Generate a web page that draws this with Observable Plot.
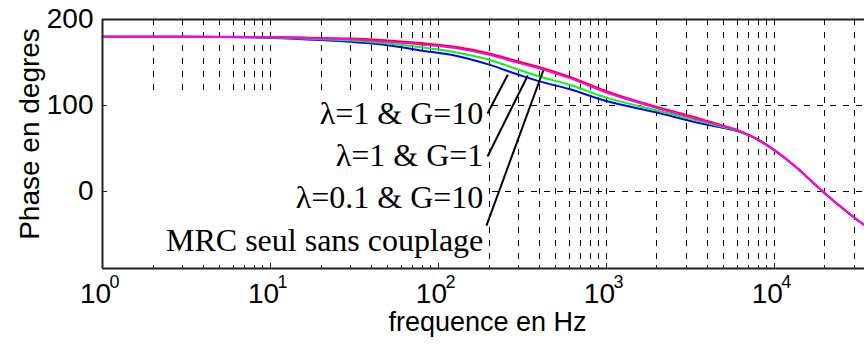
<!DOCTYPE html>
<html><head><meta charset="utf-8">
<script src="https://cdn.jsdelivr.net/npm/d3@7"></script>
<script src="https://cdn.jsdelivr.net/npm/@observablehq/plot@0.6"></script>
<style>body{margin:0;background:#fff}</style>
</head><body><div id="chart"></div>
<script>
// Frequency (Hz) sample points
const freq = [1, 3, 10, 20, 30, 50, 78, 123, 200, 300, 400, 600, 1000, 2000, 3400, 5000, 6000, 7000, 8000, 10000, 12000, 14000, 17000, 20000, 24000, 27000, 34400];
// Phase (degrees) per series
const phaseL1G10  = [180, 180, 178.5, 176, 174, 170, 164, 158.3, 147.4, 135.7, 127.9, 119, 105, 91.6, 80.3, 73.5, 70.2, 65.3, 59.9, 47.9, 36.1, 25.2, 9.9, -2.6, -15.7, -23.8, -39.7];
const phaseL1G1   = [180, 180, 179, 177, 175.5, 172, 167.6, 162.2, 153.2, 141.5, 133.7, 124, 109, 94, 83, 74.5, 70.6, 65.5, 59.9, 47.9, 36.1, 25.2, 9.9, -2.6, -15.7, -23.8, -39.7];
const phaseL01G10 = [180, 180, 179.7, 178.5, 177.8, 175.5, 172.5, 168.5, 160.5, 151, 144.5, 133.5, 116.5, 98, 86, 76, 71.5, 65.9, 60, 47.9, 36.1, 25.2, 9.9, -2.6, -15.7, -23.8, -39.7];
const phaseMRC    = [180, 180, 179.5, 178, 177, 174, 171, 167, 159, 149.5, 143, 132, 115, 97, 84.5, 75.5, 71.2, 65.7, 59.9, 47.9, 36.1, 25.2, 9.9, -2.6, -15.7, -23.8, -39.7];

const seriesNames = ["λ=1 & G=10", "λ=1 & G=1", "λ=0.1 & G=10", "MRC seul sans couplage"];
const seriesValues = [phaseL1G10, phaseL1G1, phaseL01G10, phaseMRC];
const seriesColors = ["#0000ff", "#00ff00", "#ff0000", "#ff00ff"];

// Annotation labels and pointer lines (data coordinates)
const labelTexts = ["λ=1 & G=10", "λ=1 & G=1", "λ=0.1 & G=10", "MRC seul sans couplage"];
const labelY = [90.5, 41.6, -7.3, -57.4];
const labelX = 185;
const pointerF1 = [195.9, 195.9, 193.2];
const pointerV1 = [90.5, 40.4, -40.0];
const pointerF2 = [258.8, 340.4, 420.7];
const pointerV2 = [135.6, 134.8, 140.6];

const decades = [1, 10, 100, 1000, 10000];
const exponents = ["0", "1", "2", "3", "4"];
const yTicks = [0, 100, 200];

const xMax = 34400;
const minor = [];
for (let k = 0; k < 5; k++) for (let m = 2; m <= 9; m++) { const f = m * 10 ** k; if (f < xMax) minor.push(f); }
const gridX = decades.slice(1).concat(minor);

const table = seriesNames.flatMap((name, s) => freq.map((f, i) => ({f, v: seriesValues[s][i], name})));
const pointers = pointerF1.map((f, i) => ({f1: f, v1: pointerV1[i], f2: pointerF2[i], v2: pointerV2[i]}));
const labels = labelTexts.map((t, i) => ({t, y: labelY[i]}));

const dash = "6,7";
const chart = Plot.plot({
  width: 864, height: 352,
  marginLeft: 102, marginRight: 0, marginTop: 19, marginBottom: 84,
  x: {type: "log", domain: [1, xMax], axis: null},
  y: {domain: [-90, 200], axis: null},
  color: {domain: seriesNames, range: seriesColors},
  style: {fontFamily: "'Liberation Sans', Arial, sans-serif", fontSize: "28px", background: "white", color: "black"},
  marks: [
    Plot.ruleX(gridX, {stroke: "#000", strokeDasharray: dash, strokeWidth: 1, shapeRendering: "crispEdges"}),
    Plot.ruleY([0, 100], {stroke: "#000", strokeDasharray: dash, strokeWidth: 1, shapeRendering: "crispEdges"}),
    Plot.rect([0], {x1: 1, x2: 196, y1: -90, y2: 115, fill: "white"}),
    Plot.ruleX(minor, {y1: -90, y2: -86.5, stroke: "#222", strokeWidth: 1, shapeRendering: "crispEdges"}),
    Plot.ruleX(decades.slice(1), {y1: -90, y2: -84, stroke: "#222", strokeWidth: 1, shapeRendering: "crispEdges"}),
    Plot.ruleY([0, 100], {x1: 1, x2: 1.07, stroke: "#222", strokeWidth: 1, shapeRendering: "crispEdges"}),
    Plot.line(table, {x: "f", y: "v", z: "name", stroke: "name", strokeWidth: 2, curve: "monotone-x"}),
    Plot.link(pointers, {x1: "f1", y1: "v1", x2: "f2", y2: "v2", stroke: "black", strokeWidth: 2}),
    Plot.text(labels, {x: () => labelX, y: "y", text: "t", textAnchor: "end", fontFamily: "'Liberation Serif', 'Times New Roman', serif", fontSize: 32, fill: "black"}),
    Plot.ruleY([-90, 200], {stroke: "#222", strokeWidth: 2}),
    Plot.ruleX([1], {stroke: "#222", strokeWidth: 2}),
    Plot.text(yTicks, {y: d => d, frameAnchor: "left", textAnchor: "end", dx: -9, text: d => String(d), fontSize: 28}),
    Plot.text(decades, {x: d => d, frameAnchor: "bottom", text: () => "10", dx: -7, dy: 34, fontSize: 28}),
    Plot.text(decades, {x: d => d, frameAnchor: "bottom", text: (d, i) => exponents[i], dx: 12, dy: 19, fontSize: 18}),
    Plot.text(["frequence en Hz"], {frameAnchor: "bottom", text: d => d, dx: 4, dy: 62, fontSize: 27}),
    Plot.text(["Phase en degres"], {frameAnchor: "left", textAnchor: "middle", text: d => d, rotate: -90, dx: -72, dy: -10, fontSize: 28})
  ]
});
document.getElementById("chart").appendChild(chart);
</script>
</body></html>
